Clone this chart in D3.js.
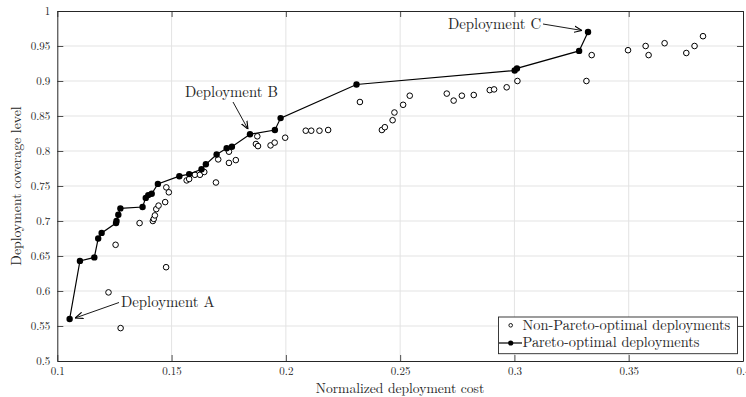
<!DOCTYPE html>
<html>
<head>
<meta charset="utf-8">
<script src="https://cdn.jsdelivr.net/npm/d3@7"></script>
<style>
  html, body { margin: 0; padding: 0; background: #fff; }
  svg text { font-family: "Latin Modern Roman", "Liberation Serif", serif; fill: #262626; }
</style>
</head>
<body>
<svg id="chart" width="746" height="397"></svg>
<script>
// ---- data ----
const xTicks = [0.1, 0.15, 0.2, 0.25, 0.3, 0.35, 0.4];
const yTicks = [0.5, 0.55, 0.6, 0.65, 0.7, 0.75, 0.8, 0.85, 0.9, 0.95, 1];

const paretoCost = [0.1054, 0.1099, 0.1162, 0.1179, 0.1194, 0.1257, 0.1259, 0.1267, 0.1276, 0.1373,
  0.1387, 0.1398, 0.1413, 0.1440, 0.1534, 0.1577, 0.1631, 0.1650, 0.1697, 0.1741,
  0.1764, 0.1843, 0.1952, 0.1977, 0.2309, 0.3001, 0.3011, 0.3283, 0.3322];
const paretoCoverage = [0.560, 0.643, 0.648, 0.675, 0.683, 0.697, 0.700, 0.709, 0.718, 0.720,
  0.733, 0.737, 0.739, 0.753, 0.764, 0.767, 0.774, 0.781, 0.795, 0.804,
  0.806, 0.824, 0.830, 0.847, 0.895, 0.915, 0.918, 0.943, 0.970];

const otherCost = [0.1224, 0.1277, 0.1255, 0.1360, 0.1418, 0.1422, 0.1427, 0.1433, 0.1443, 0.1472,
  0.1476, 0.1477, 0.1488, 0.1566, 0.1577, 0.1602, 0.1624, 0.1643, 0.1694, 0.1704,
  0.1751, 0.1751, 0.1781, 0.1875, 0.1869, 0.1878, 0.1933, 0.1951, 0.1997, 0.2087,
  0.2111, 0.2147, 0.2185, 0.2324, 0.2420, 0.2433, 0.2467, 0.2475, 0.2513, 0.2542,
  0.2704, 0.2734, 0.2770, 0.2822, 0.2892, 0.2911, 0.2966, 0.3013, 0.3315, 0.3338,
  0.3497, 0.3574, 0.3587, 0.3657, 0.3752, 0.3788, 0.3825];
const otherCoverage = [0.598, 0.547, 0.666, 0.697, 0.700, 0.703, 0.708, 0.717, 0.722, 0.727,
  0.634, 0.748, 0.741, 0.758, 0.760, 0.766, 0.766, 0.770, 0.755, 0.788,
  0.783, 0.799, 0.787, 0.821, 0.810, 0.807, 0.808, 0.812, 0.819, 0.829,
  0.829, 0.829, 0.830, 0.870, 0.830, 0.834, 0.844, 0.855, 0.866, 0.879,
  0.882, 0.872, 0.879, 0.880, 0.887, 0.888, 0.891, 0.900, 0.900, 0.937,
  0.944, 0.950, 0.937, 0.954, 0.940, 0.950, 0.964];

const annotationLabels = ["Deployment A", "Deployment B", "Deployment C"];
const annotationIndex = [0, 21, 28]; // index into Pareto arrays
const legendLabels = ["Non-Pareto-optimal deployments", "Pareto-optimal deployments"];

// ---- layout ----
const svg = d3.select("#chart");
const m = { left: 57.3, right: 743, top: 11, bottom: 361 };
const x = d3.scaleLinear().domain([0.1, 0.4]).range([m.left, m.right]);
const y = d3.scaleLinear().domain([0.5, 1]).range([m.bottom, m.top]);
const axisColor = "#262626";
const FONT = '"Latin Modern Roman", "Liberation Serif", serif';

// grid
const grid = svg.append("g");
grid.selectAll("line.gx").data(xTicks.slice(1, -1)).enter().append("line")
  .attr("x1", d => x(d)).attr("x2", d => x(d)).attr("y1", m.top).attr("y2", m.bottom)
  .attr("stroke", "#e3e3e3").attr("stroke-width", 1);
grid.selectAll("line.gy").data(yTicks.slice(1, -1)).enter().append("line")
  .attr("y1", d => y(d)).attr("y2", d => y(d)).attr("x1", m.left).attr("x2", m.right)
  .attr("stroke", "#e3e3e3").attr("stroke-width", 1);

// axes
const tickLen = 6;
const fmt = d => String(+d.toFixed(2));
const gxB = svg.append("g").attr("transform", `translate(0,${m.bottom})`)
  .call(d3.axisBottom(x).tickValues(xTicks).tickFormat(fmt).tickSizeInner(-tickLen).tickSizeOuter(0).tickPadding(6));
const gxT = svg.append("g").attr("transform", `translate(0,${m.top})`)
  .call(d3.axisTop(x).tickValues(xTicks).tickFormat("").tickSizeInner(-tickLen).tickSizeOuter(0));
const gyL = svg.append("g").attr("transform", `translate(${m.left},0)`)
  .call(d3.axisLeft(y).tickValues(yTicks).tickFormat(fmt).tickSizeInner(-tickLen).tickSizeOuter(0).tickPadding(7));
const gyR = svg.append("g").attr("transform", `translate(${m.right},0)`)
  .call(d3.axisRight(y).tickValues(yTicks).tickFormat("").tickSizeInner(-tickLen).tickSizeOuter(0));
[gxB, gxT, gyL, gyR].forEach(g => {
  g.attr("font-family", FONT);
  g.select(".domain").attr("stroke", axisColor).attr("stroke-width", 1);
  g.selectAll(".tick line").attr("stroke", axisColor).attr("stroke-width", 0.8);
  g.selectAll(".tick text").attr("font-size", 11).attr("fill", axisColor);
});

// axis labels
svg.append("text").attr("x", 400).attr("y", 393)
  .attr("text-anchor", "middle").attr("font-size", 13.6).text("Normalized deployment cost");
svg.append("text").attr("transform", `translate(21,186) rotate(-90)`)
  .attr("text-anchor", "middle").attr("font-size", 13.8).text("Deployment coverage level");

// non-Pareto points
const others = otherCost.map((c, i) => ({ c, v: otherCoverage[i] }));
svg.append("g").selectAll("circle").data(others).enter().append("circle")
  .attr("cx", d => x(d.c)).attr("cy", d => y(d.v)).attr("r", 2.8)
  .attr("fill", "#fff").attr("stroke", "#000").attr("stroke-width", 1);

// Pareto line & points
const pareto = paretoCost.map((c, i) => ({ c, v: paretoCoverage[i] }));
svg.append("path").datum(pareto)
  .attr("d", d3.line().x(d => x(d.c)).y(d => y(d.v)))
  .attr("fill", "none").attr("stroke", "#000").attr("stroke-width", 1.2);
svg.append("g").selectAll("circle").data(pareto).enter().append("circle")
  .attr("cx", d => x(d.c)).attr("cy", d => y(d.v)).attr("r", 3.2).attr("fill", "#000");

// annotations
const defs = svg.append("defs");
defs.append("marker").attr("id", "arr").attr("viewBox", "0 0 10 10").attr("refX", 10).attr("refY", 5)
  .attr("markerWidth", 8).attr("markerHeight", 8).attr("orient", "auto")
  .attr("markerUnits", "userSpaceOnUse")
  .append("path").attr("d", "M0,1 L10,5 L0,9").attr("fill", "none").attr("stroke", "#000").attr("stroke-width", 1.4);

const annText = [ { tx: 121, ty: 307, ax: 119, ay: 302.5, dx: 5.5, dy: -1 },
                  { tx: 185, ty: 97, ax: 233, ay: 102, dx: -2, dy: -5 },
                  { tx: 448, ty: 29, ax: 543, ay: 24, dx: -6, dy: -1.5 } ];
annotationLabels.forEach((lab, k) => {
  const p = pareto[annotationIndex[k]];
  const a = annText[k];
  svg.append("text").attr("x", a.tx).attr("y", a.ty).attr("font-size", 14.8).text(lab);
  svg.append("line").attr("x1", a.ax).attr("y1", a.ay)
    .attr("x2", x(p.c) + a.dx).attr("y2", y(p.v) + a.dy)
    .attr("stroke", "#000").attr("stroke-width", 0.9).attr("marker-end", "url(#arr)");
});

// legend
const lg = svg.append("g");
lg.append("rect").attr("x", 498.5).attr("y", 317).attr("width", 239).attr("height", 36.7)
  .attr("fill", "#fff").attr("stroke", axisColor).attr("stroke-width", 0.9);
lg.append("circle").attr("cx", 510.7).attr("cy", 325.3).attr("r", 1.8).attr("fill", "#fff").attr("stroke", "#000").attr("stroke-width", 0.9);
lg.append("line").attr("x1", 499).attr("x2", 522).attr("y1", 343).attr("y2", 343).attr("stroke", "#000").attr("stroke-width", 1.2);
lg.append("circle").attr("cx", 510.7).attr("cy", 343).attr("r", 2.6).attr("fill", "#000");
lg.selectAll("text").data(legendLabels).enter().append("text")
  .attr("x", 522.5).attr("y", (d, i) => 329.7 + i * 17.6).attr("font-size", 14.4).text(d => d);
</script>
</body>
</html>
